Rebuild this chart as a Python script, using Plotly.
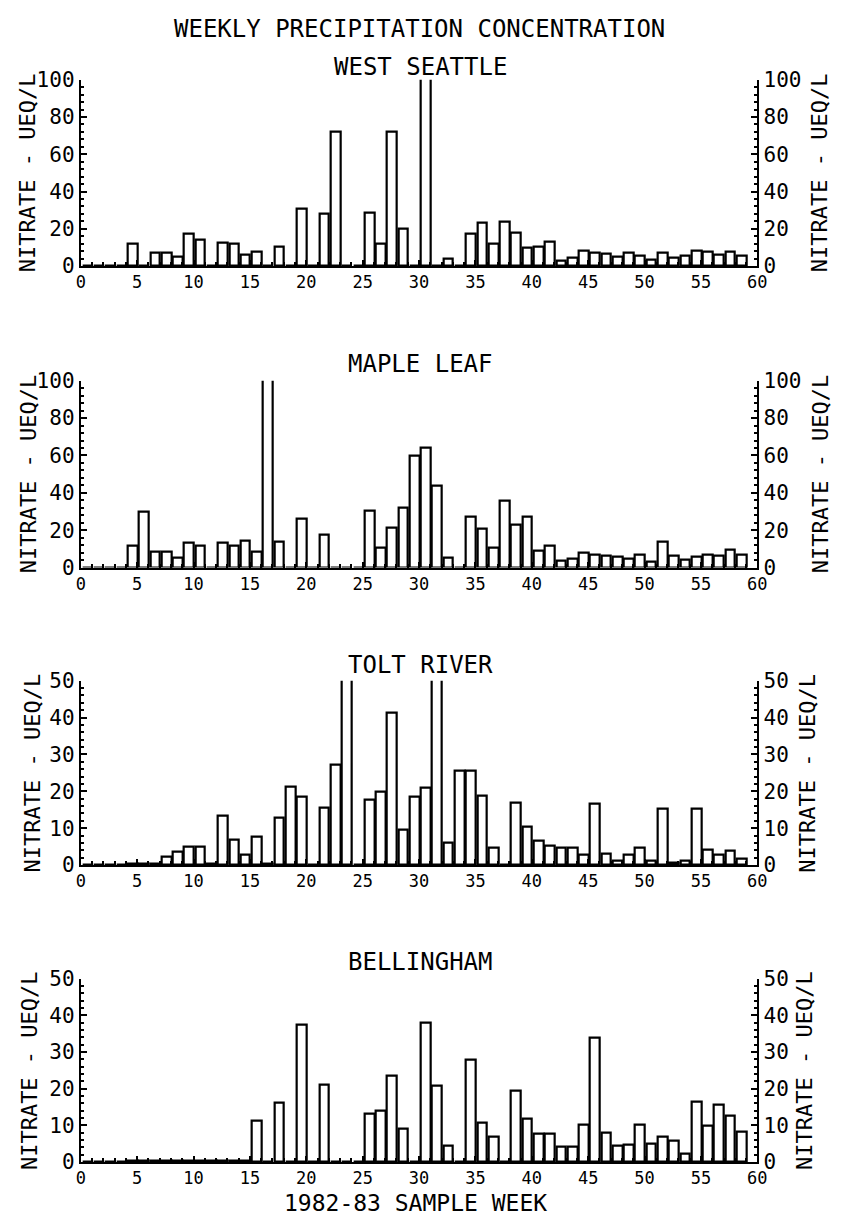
import plotly.graph_objects as go

# Page is 841x1227; the html body keeps its default 8px margin, so the figure
# is laid out in page coordinates shifted by OFF.
PAGE_W, PAGE_H = 841, 1227
OFF = 8
W, H = PAGE_W - OFF, PAGE_H - OFF
FONT = "DejaVu Sans Mono"

weeks = list(range(1, 60))

west_seattle = [0, 0, 0, 0, 12, 0, 7, 7, 5, 17.5,
                14, 0, 12.5, 12, 6, 7.5, 0, 10.5, 0, 31,
                0, 28, 72, 0, 0, 28.5, 12, 72, 20, 0,
                150, 0, 4, 0, 17.5, 23.3, 12, 24, 18, 9.8,
                10.5, 13, 3, 4.5, 8, 7, 6.7, 5, 7, 5.6,
                3.5, 7, 4.5, 5.3, 8, 7.5, 6.3, 7.5, 5.3]

maple_leaf = [0, 0, 0, 0, 11.5, 30, 8.5, 8.5, 5, 13.5,
              11.5, 0, 13.5, 11.5, 14.3, 8.5, 150, 14, 0, 26,
              0, 17.8, 0, 0, 0, 30.5, 10.5, 21.5, 32, 60,
              64, 44, 5, 0, 27, 21, 10.4, 35.6, 23, 27,
              9, 11.6, 3.8, 4.5, 8, 6.8, 6.4, 6, 4.7, 6.8,
              3.3, 14, 6.3, 4.2, 6, 6.8, 6.4, 9.7, 7]

tolt_river = [0, 0, 0, 0, 0.3, 0.3, 0.3, 2.2, 3.5, 5,
              5, 0.3, 13.5, 7, 2.7, 7.8, 0.3, 12.8, 21.2, 18.4,
              0, 15.5, 27.2, 75, 0, 17.7, 19.8, 41.2, 9.6, 18.4,
              21, 75, 6, 25.5, 25.5, 18.8, 4.8, 0, 16.8, 10.4,
              6.5, 5.3, 4.6, 4.6, 2.8, 16.6, 3.1, 1.3, 2.7, 4.8,
              1.3, 15.2, 0.5, 1.1, 15.2, 4.2, 2.8, 4, 1.6]

bellingham = [0, 0, 0, 0, 0.3, 0.3, 0.3, 0.3, 0.3, 0.3,
              0.3, 0.3, 0.3, 0.3, 0.3, 11.2, 0, 16.1, 0, 37.5,
              0, 21, 0, 0, 0, 13.2, 13.9, 23.6, 9.2, 0,
              38, 20.8, 4.5, 0, 28, 10.7, 6.8, 0, 19.4, 11.9,
              7.6, 7.6, 4.3, 4.3, 10.3, 34, 8, 4.5, 4.7, 10.1,
              4.9, 7, 5.8, 2.2, 16.5, 10, 15.7, 12.6, 8.3]

panel_titles = ["WEST SEATTLE", "MAPLE LEAF", "TOLT RIVER", "BELLINGHAM"]
panel_values = [west_seattle, maple_leaf, tolt_river, bellingham]
y_max = [100, 100, 50, 50]
y_major = [20, 20, 10, 10]
y_minor = [4, 4, 2, 2]
x_ticks = list(range(0, 61, 5))

main_title = "WEEKLY PRECIPITATION CONCENTRATION"
y_title = "NITRATE - UEQ/L"
x_title = "1982-83 SAMPLE WEEK"

# layout geometry in page pixels
panel_px = [(69, 259), (376, 566.5), (682, 870), (986, 1173)]
title_px = [56, 359, 665.5, 969]
left_title_px = [23.5, 23.5, 28, 25]
right_title_px = [830, 830, 817.5, 814]
x_left_px, x_right_px = 77, 766


def px(p):
    return (p - OFF) / W


def py(p):
    return 1 - (p - OFF) / H


x_dom = [px(x_left_px), px(x_right_px)]

fig = go.Figure()
layout = dict(
    width=W, height=H, autosize=False,
    margin=dict(l=0, r=0, t=0, b=0),
    paper_bgcolor="white", plot_bgcolor="white",
    showlegend=False,
    font=dict(family=FONT, color="black"),
)
annotations = []

for i in range(4):
    n = i + 1
    xs = "" if n == 1 else str(n)
    xa = "x" + xs
    ya = "y" + xs
    yr = "y" + str(n + 4)
    top, bot = panel_px[i]
    dom = [py(bot), py(top)]

    fig.add_trace(go.Bar(
        x=[w - 0.4 for w in weeks], y=panel_values[i], width=0.86,
        marker=dict(color="white", line=dict(color="black", width=2.2)),
        xaxis=xa, yaxis=ya, hoverinfo="skip",
    ))
    fig.add_trace(go.Scatter(x=[None], y=[None], xaxis=xa, yaxis=yr,
                             showlegend=False, hoverinfo="skip"))

    layout["xaxis" + xs] = dict(
        domain=x_dom, anchor=ya, range=[0, 60],
        tickvals=x_ticks, ticktext=[str(t) for t in x_ticks],
        ticks="inside", ticklen=6, tickwidth=2, tickcolor="black",
        minor=dict(dtick=1, ticks="inside", ticklen=4, tickwidth=1.5, tickcolor="black"),
        showline=True, linewidth=2, linecolor="black",
        showgrid=False, zeroline=False,
        tickfont=dict(family=FONT, size=17, color="black"),
    )
    ycommon = dict(
        range=[0, y_max[i]], dtick=y_major[i], tick0=0,
        ticks="inside", ticklen=6, tickwidth=2, tickcolor="black",
        minor=dict(dtick=y_minor[i], ticks="inside", ticklen=3, tickwidth=1.5, tickcolor="black"),
        showline=True, linewidth=2, linecolor="black",
        showgrid=False, zeroline=False,
        tickfont=dict(family=FONT, size=21, color="black"),
    )
    layout["yaxis" + xs] = dict(domain=dom, anchor=xa, side="left", **ycommon)
    layout["yaxis" + str(n + 4)] = dict(overlaying=ya, anchor=xa, side="right", **ycommon)

    annotations.append(dict(text=panel_titles[i], x=px(422.5), y=py(title_px[i]),
                            xref="paper", yref="paper", showarrow=False,
                            xanchor="center", yanchor="middle",
                            font=dict(family=FONT, size=24, color="black")))
    mid = py((top + bot) / 2)
    annotations.append(dict(text=y_title, x=px(left_title_px[i]), y=mid,
                            xref="paper", yref="paper", showarrow=False, textangle=-90,
                            xanchor="center", yanchor="middle",
                            font=dict(family=FONT, size=22, color="black")))
    annotations.append(dict(text=y_title, x=px(right_title_px[i]), y=mid,
                            xref="paper", yref="paper", showarrow=False, textangle=-90,
                            xanchor="center", yanchor="middle",
                            font=dict(family=FONT, size=22, color="black")))

annotations.append(dict(text=main_title, x=px(422), y=py(17), xref="paper", yref="paper",
                        showarrow=False, xanchor="center", yanchor="middle",
                        font=dict(family=FONT, size=24, color="black")))
annotations.append(dict(text=x_title, x=px(417.5), y=py(1215), xref="paper", yref="paper",
                        showarrow=False, xanchor="center", yanchor="middle",
                        font=dict(family=FONT, size=23, color="black")))

layout["annotations"] = annotations
layout["bargap"] = 0
fig.update_layout(**layout)
fig.write_html("out.html")
